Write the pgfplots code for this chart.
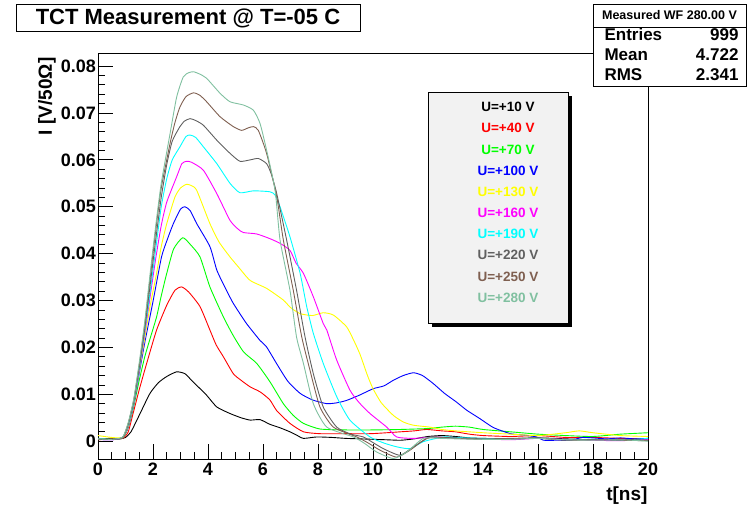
\documentclass[border=0pt]{standalone}
\usepackage{pgfplots}
\pgfplotsset{compat=1.18}
\usepackage{fontspec}
\setmainfont{Liberation Sans}
\definecolor{cgray}{RGB}{96,96,96}
\definecolor{cbrown}{RGB}{127,95,80}
\definecolor{cteal}{RGB}{128,192,160}
\definecolor{cgreen}{RGB}{0,255,0}
\definecolor{cyellow}{RGB}{255,255,0}
\definecolor{cmag}{RGB}{255,0,255}
\definecolor{ccyan}{RGB}{0,255,255}
\definecolor{cred}{RGB}{255,0,0}
\definecolor{cblue}{RGB}{0,0,255}
\definecolor{legfill}{RGB}{242,242,242}
\begin{document}
\begin{tikzpicture}[x=1pt,y=1pt]
\path[use as bounding box] (0,0) rectangle (747,509);
\begin{axis}[
  at={(98pt,50pt)}, anchor=south west,
  scale only axis, width=550pt, height=406pt,
  xmin=0, xmax=20, ymin=-0.0038, ymax=0.0828,
  xtick={0,2,...,20}, minor x tick num=3,
  ytick={0,0.01,0.02,0.03,0.04,0.05,0.06,0.07,0.08}, minor y tick num=4,
  tick align=inside, xtick pos=left, ytick pos=left,
  major tick length=15pt, minor tick length=7pt,
  scaled y ticks=false,
  /pgf/number format/assume math mode=true,
  ticklabel style={font=\fontsize{18}{18}\selectfont\bfseries},
  yticklabel style={/pgf/number format/fixed, /pgf/number format/precision=2, inner sep=2pt},
  xticklabel style={inner sep=4pt},
  axis line style={line width=0.8pt},
  every tick/.style={black, line width=0.8pt},
  every axis plot/.append style={line width=0.9pt, line join=round, smooth, tension=0.35},
]
% U=+10 V
\addplot[black] coordinates {(0,0.0003)(0.4,0.0006)(0.8,0.0005)(1.0,0.0008)(1.2,0.002)(1.53,0.0059)(1.89,0.0102)(2.2,0.0125)(2.5,0.0138)(2.86,0.0148)(3.16,0.0144)(3.4,0.013)(3.59,0.0119)(3.95,0.0098)(4.32,0.0073)(4.8,0.0059)(5.2,0.005)(5.53,0.0045)(5.89,0.0046)(6.25,0.0036)(6.6,0.0029)(6.98,0.002)(7.22,0.0013)(7.47,0.0006)(7.95,0.0009)(8.5,0.0008)(9,0.0006)(9.5,0.0005)(10,0.0004)(10.5,0.0003)(11,0.0002)(11.5,0.0005)(12,0.001)(12.5,0.0012)(13,0.001)(13.5,0.0007)(14,0.0006)(15,0.0005)(16,0.0007)(17,0.0005)(18,0.0003)(19,0.0004)(20,0.0002)};
% U=+40 V
\addplot[cred] coordinates {(0,0.0003)(0.5,0.0005)(0.9,0.0006)(1.1,0.002)(1.28,0.006)(1.5,0.011)(1.77,0.0166)(2.13,0.0237)(2.5,0.029)(2.8,0.0322)(3.04,0.0329)(3.3,0.0318)(3.71,0.0287)(4.07,0.0237)(4.3,0.0205)(4.56,0.018)(4.92,0.0144)(5.2,0.013)(5.53,0.0116)(5.9,0.0105)(6.25,0.0088)(6.5,0.0065)(6.98,0.0038)(7.47,0.002)(8.07,0.0016)(9,0.0016)(9.9,0.0016)(10.5,0.0018)(11,0.002)(11.5,0.0022)(11.95,0.0025)(12.5,0.0022)(13,0.002)(13.5,0.0015)(14,0.0012)(15,0.001)(16,0.0012)(17,0.0008)(18,0.0008)(19,0.0006)(20,0.0005)};
% U=+70 V
\addplot[cgreen] coordinates {(0,0.0005)(0.5,0.0004)(0.9,0.0007)(1.1,0.003)(1.3,0.0075)(1.5,0.013)(1.7,0.018)(1.9,0.022)(2.13,0.0265)(2.3,0.031)(2.5,0.0358)(2.75,0.041)(3.08,0.0434)(3.35,0.042)(3.71,0.0393)(4.07,0.0329)(4.56,0.0265)(4.92,0.0225)(5.3,0.019)(5.77,0.0166)(6.25,0.0127)(6.74,0.008)(7.1,0.0055)(7.47,0.0038)(8.07,0.0026)(9,0.0024)(10,0.0024)(11,0.0025)(12,0.0027)(12.5,0.003)(13,0.0032)(13.5,0.003)(14,0.0025)(15,0.002)(16,0.0015)(17,0.0012)(18,0.001)(19,0.0015)(20,0.0018)};
% U=+100 V
\addplot[cblue] coordinates {(0,0.0004)(0.5,0.0003)(0.9,0.0008)(1.1,0.003)(1.3,0.0078)(1.5,0.0145)(1.7,0.021)(2.01,0.0301)(2.31,0.0393)(2.55,0.0435)(2.74,0.0464)(3.0,0.0495)(3.16,0.05)(3.35,0.0492)(3.59,0.0464)(4.07,0.0415)(4.32,0.0365)(4.6,0.033)(4.92,0.0294)(5.4,0.0251)(5.89,0.0215)(6.13,0.0201)(6.5,0.0165)(6.9,0.0128)(7.35,0.0102)(7.8,0.0088)(8.32,0.008)(8.7,0.0082)(9.04,0.0087)(9.5,0.0098)(10.01,0.0112)(10.4,0.0118)(10.74,0.013)(11.1,0.014)(11.47,0.0146)(11.8,0.014)(12.19,0.0123)(12.6,0.0102)(13.0,0.0085)(13.41,0.0066)(13.89,0.0048)(14.38,0.0029)(15.0,0.0016)(15.5,0.0013)(15.95,0.0009)(16.2,0.0002)(16.7,0.0002)(17.2,0.0002)(17.6,0.0008)(18,0.0007)(18.5,0.0005)(19,0.0007)(19.5,0.0005)(20,0.0006)};
% U=+130 V
\addplot[cyellow] coordinates {(0,0.0012)(0.5,0.0008)(0.9,0.0008)(1.1,0.0032)(1.3,0.008)(1.5,0.015)(1.7,0.022)(1.9,0.029)(2.13,0.0358)(2.3,0.0415)(2.5,0.0464)(2.8,0.0521)(3.0,0.054)(3.22,0.0548)(3.4,0.0545)(3.59,0.0535)(4.07,0.0464)(4.4,0.0425)(4.8,0.0393)(5.1,0.0372)(5.53,0.0343)(6.13,0.0326)(6.74,0.0301)(7.0,0.0285)(7.35,0.0272)(7.8,0.0268)(8.19,0.0274)(8.56,0.0269)(9.04,0.0244)(9.3,0.0215)(9.53,0.0185)(9.8,0.014)(10.0,0.0112)(10.3,0.0082)(10.74,0.0055)(11.1,0.0041)(11.47,0.0034)(12.07,0.003)(12.5,0.0025)(13,0.0022)(14,0.0018)(15,0.0015)(16,0.0012)(17,0.0018)(17.5,0.0022)(18,0.0018)(19,0.0012)(20,0.001)};
% U=+160 V
\addplot[cmag] coordinates {(0,0.0004)(0.5,0.0003)(0.9,0.0008)(1.1,0.0035)(1.3,0.0082)(1.5,0.0152)(1.7,0.023)(1.9,0.031)(2.1,0.039)(2.3,0.046)(2.5,0.051)(2.86,0.0564)(3.05,0.0592)(3.22,0.0597)(3.4,0.0595)(3.83,0.0578)(4.32,0.0528)(4.8,0.0471)(5.1,0.0452)(5.29,0.0445)(5.77,0.0442)(6.25,0.0432)(6.62,0.0422)(6.98,0.0407)(7.2,0.038)(7.47,0.0358)(7.83,0.0308)(8.19,0.0251)(8.32,0.0237)(8.68,0.0173)(9.16,0.0109)(9.5,0.0082)(9.89,0.0059)(10.5,0.003)(10.86,0.0009)(11.47,0.0006)(12.3,0.0009)(13.04,0.0006)(14,0.0005)(15,0.0003)(16,0.0006)(17,0.0004)(18,0.0002)(19,0.0001)(20,0.0004)};
% U=+190 V
\addplot[ccyan] coordinates {(0,0.0006)(0.5,0.0004)(0.9,0.0008)(1.1,0.0035)(1.3,0.0082)(1.5,0.0155)(1.7,0.0235)(1.9,0.032)(2.1,0.041)(2.3,0.05)(2.5,0.056)(2.7,0.06)(2.98,0.0628)(3.2,0.065)(3.35,0.0653)(3.55,0.0648)(3.83,0.0628)(4.32,0.0592)(4.8,0.055)(5.16,0.053)(5.65,0.0534)(6.25,0.0532)(6.44,0.0525)(6.62,0.05)(6.98,0.0436)(7.35,0.0358)(7.59,0.0287)(7.83,0.023)(8.19,0.0166)(8.68,0.0095)(9.16,0.0045)(9.89,0.0009)(10.4,-0.0004)(10.86,-0.0012)(11.35,-0.0016)(11.83,-0.0001)(12.56,0.0009)(13,0.0008)(14,0.0006)(15,0.0005)(16,0.0006)(17,0.0003)(18,0.0004)(19,0.0002)(20,0.0006)};
% U=+220 V
\addplot[cgray] coordinates {(0,0.0005)(0.5,0.0004)(0.9,0.0008)(1.1,0.0037)(1.3,0.0085)(1.5,0.0158)(1.7,0.024)(1.9,0.0335)(2.1,0.043)(2.3,0.052)(2.5,0.059)(2.7,0.064)(2.98,0.0671)(3.15,0.0683)(3.35,0.0688)(3.55,0.0684)(3.83,0.0674)(4.32,0.0642)(4.8,0.0614)(5.16,0.0597)(5.53,0.06)(5.83,0.0603)(6.13,0.0592)(6.3,0.057)(6.5,0.0528)(6.86,0.0429)(7.22,0.0322)(7.53,0.0222)(7.83,0.0144)(8.19,0.0073)(8.68,0.003)(9.2,0.0015)(9.65,0.0009)(10.0,-0.0003)(10.38,-0.0016)(10.98,-0.003)(11.47,-0.0012)(12.07,0.0009)(12.5,0.0008)(13,0.0007)(14,0.0005)(15,0.0006)(16,0.0007)(17,0.0003)(18,0.0003)(19,0.0004)(20,0.0002)};
% U=+250 V
\addplot[cbrown] coordinates {(0,0.0004)(0.5,0.0004)(0.9,0.0008)(1.1,0.0038)(1.3,0.0088)(1.5,0.0162)(1.7,0.0248)(1.9,0.035)(2.1,0.045)(2.3,0.054)(2.62,0.0635)(2.8,0.068)(2.98,0.0713)(3.2,0.0735)(3.47,0.0743)(3.7,0.0738)(3.95,0.0724)(4.44,0.0692)(4.92,0.0671)(5.22,0.0663)(5.45,0.0668)(5.65,0.0671)(5.83,0.0663)(6.13,0.0614)(6.5,0.0521)(6.74,0.0429)(7.1,0.0322)(7.41,0.0222)(7.71,0.0151)(8.07,0.0073)(8.56,0.003)(9.41,0.0009)(9.8,-0.0003)(10.25,-0.0019)(10.86,-0.0034)(11.35,-0.0019)(11.95,0.0006)(12.5,0.0007)(13,0.0006)(14,0.0004)(15,0.0005)(16,0.0006)(17,0.0002)(18,0.0003)(19,0.0002)(20,0.0001)};
% U=+280 V
\addplot[cteal] coordinates {(0,0.0005)(0.5,0.0004)(0.9,0.0009)(1.1,0.004)(1.3,0.009)(1.5,0.0168)(1.7,0.0255)(1.9,0.036)(2.1,0.046)(2.3,0.055)(2.62,0.0656)(2.86,0.0734)(3.1,0.0777)(3.3,0.0786)(3.47,0.0788)(3.7,0.0783)(3.95,0.0774)(4.44,0.0742)(4.8,0.0724)(5.29,0.0717)(5.65,0.0706)(5.89,0.0678)(6.13,0.0621)(6.44,0.0535)(6.62,0.0429)(6.98,0.0322)(7.22,0.0222)(7.47,0.0166)(7.83,0.008)(8.32,0.003)(9.29,0.0009)(9.7,-0.0005)(10.13,-0.0023)(10.74,-0.0037)(11.23,-0.0023)(11.83,0.0006)(12.5,0.0006)(13,0.0005)(14,0.0004)(15,0.0004)(16,0.0006)(17,0.0003)(18,0.0002)(19,0.0003)(20,0.0)};
\end{axis}
% title box
\draw[line width=1pt, fill=white] (16,477) rectangle (360,504);
\node[font=\fontsize{22}{22}\selectfont\bfseries] at (188,490.5) {TCT Measurement @ T=-05 C};
% stats box
\draw[line width=1pt, fill=white] (593,422) rectangle (746,504);
\draw[line width=0.8pt] (593,482) -- (746,482);
\node[font=\fontsize{12.5}{12.5}\selectfont\bfseries] at (669.5,493.5) {Measured WF 280.00 V};
\node[anchor=west, font=\fontsize{17}{17}\selectfont\bfseries] at (601,474.5) {Entries};
\node[anchor=east, font=\fontsize{17}{17}\selectfont\bfseries] at (742,474.5) {999};
\node[anchor=west, font=\fontsize{17}{17}\selectfont\bfseries] at (601,454) {Mean};
\node[anchor=east, font=\fontsize{17}{17}\selectfont\bfseries] at (742,454) {4.722};
\node[anchor=west, font=\fontsize{17}{17}\selectfont\bfseries] at (601,434) {RMS};
\node[anchor=east, font=\fontsize{17}{17}\selectfont\bfseries] at (742,434) {2.341};
% legend
\fill[black] (432,182) rectangle (572,413);
\draw[line width=0.8pt, fill=legfill] (428,186) rectangle (568,417);
\begin{scope}[every node/.style={font=\fontsize{13.5}{13.5}\selectfont\bfseries}]
\node[text=black] at (508,402.3) {U=+10 V};
\node[text=cred] at (508,380.7) {U=+40 V};
\node[text=cgreen] at (508,359.5) {U=+70 V};
\node[text=cblue] at (508,338.5) {U=+100 V};
\node[text=cyellow] at (508,317.3) {U=+130 V};
\node[text=cmag] at (508,296.5) {U=+160 V};
\node[text=ccyan] at (508,275) {U=+190 V};
\node[text=cgray] at (508,254) {U=+220 V};
\node[text=cbrown] at (508,232.3) {U=+250 V};
\node[text=cteal] at (508,210.7) {U=+280 V};
\end{scope}
% axis titles
\node[rotate=90, anchor=east, font=\fontsize{19}{19}\selectfont\bfseries] at (47,455) {I [V/50Ω]};
\node[anchor=east, font=\fontsize{19}{19}\selectfont\bfseries] at (651,13) {t[ns]};
\end{tikzpicture}
\end{document}
